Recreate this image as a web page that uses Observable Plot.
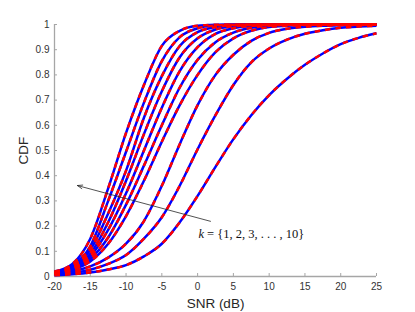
<!DOCTYPE html>
<html><head><meta charset="utf-8">
<script src="https://cdn.jsdelivr.net/npm/d3@7"></script>
<script src="https://cdn.jsdelivr.net/npm/@observablehq/plot@0.6"></script>
<style>body{margin:0;background:#fff}</style>
</head><body><div id="chart"></div>
<script>
// SNR grid (dB)
const snr = [-20,-17.5,-15,-12.5,-10,-7.5,-5,-2.5,0,2.5,5,7.5,10,12.5,15,17.5,20,22.5,25];
// CDF values, one array per k
const cdfK1  = [0.005,0.009,0.016,0.028,0.045,0.08,0.13,0.215,0.32,0.435,0.545,0.64,0.72,0.785,0.84,0.885,0.922,0.947,0.965];
const cdfK2  = [0.008,0.014,0.027,0.05,0.085,0.15,0.235,0.36,0.505,0.64,0.76,0.85,0.905,0.94,0.963,0.977,0.987,0.992,0.995];
const cdfK3  = [0.01,0.02,0.04,0.075,0.13,0.22,0.36,0.525,0.68,0.8,0.88,0.935,0.967,0.983,0.991,0.995,0.997,0.998,0.999];
const cdfK4  = [0.012,0.027,0.06,0.13,0.24,0.38,0.535,0.68,0.8,0.89,0.945,0.975,0.99,0.995,0.998,0.999,1,1,1];
const cdfK5  = [0.013,0.03,0.07,0.155,0.285,0.44,0.60,0.75,0.86,0.93,0.968,0.987,0.995,0.998,0.999,1,1,1,1];
const cdfK6  = [0.015,0.032,0.08,0.185,0.33,0.5,0.67,0.815,0.91,0.963,0.985,0.995,0.998,0.999,1,1,1,1,1];
const cdfK7  = [0.016,0.035,0.09,0.215,0.38,0.565,0.735,0.87,0.945,0.98,0.993,0.998,0.999,1,1,1,1,1,1];
const cdfK8  = [0.017,0.04,0.105,0.25,0.42,0.63,0.795,0.915,0.97,0.99,0.997,0.999,1,1,1,1,1,1,1];
const cdfK9  = [0.018,0.045,0.12,0.3,0.495,0.69,0.855,0.95,0.985,0.996,0.999,1,1,1,1,1,1,1,1];
const cdfK10 = [0.02,0.05,0.15,0.35,0.57,0.76,0.915,0.975,0.995,0.999,1,1,1,1,1,1,1,1,1];
const kValues = [1,2,3,4,5,6,7,8,9,10];

const xTicks = [-20,-15,-10,-5,0,5,10,15,20,25];
const yTicks = [0,0.1,0.2,0.3,0.4,0.5,0.6,0.7,0.8,0.9,1];
const xLabel = "SNR (dB)";
const yLabel = "CDF";

// annotation (data coordinates)
const arrowSpec = [{x1: 1.8, y1: 0.219, x2: -16.8, y2: 0.361}];
const noteSpec = [{x: 0.12, y: 0.169, k: "k", rest: " = {1, 2, 3, . . . , 10}"}];

const series = [cdfK1,cdfK2,cdfK3,cdfK4,cdfK5,cdfK6,cdfK7,cdfK8,cdfK9,cdfK10];
const rows = series.flatMap((vals, i) => vals.map((v, j) => ({k: kValues[i], snr: snr[j], cdf: v})));

const axisGray = "#a6a6a6";
const chart = Plot.plot({
  width: 415, height: 312,
  marginLeft: 54, marginRight: 39, marginTop: 24, marginBottom: 36,
  style: {fontFamily: "'Liberation Sans', Arial, sans-serif", fontSize: "10px", color: "#333", background: "#fff"},
  x: {domain: [-20, 25]},
  y: {domain: [0, 1]},
  marks: [
    Plot.ruleX([-20], {stroke: axisGray, strokeWidth: 1.3}),
    Plot.ruleY([0], {stroke: axisGray, strokeWidth: 1.3}),
    Plot.axisX(xTicks, {tickSize: 3, dy: -3, fill: "none", stroke: axisGray, label: null}),
    Plot.axisX(xTicks, {tickSize: 0, tickPadding: 6, tickFormat: d => String(d), label: null, fill: "#333"}),
    Plot.axisY(yTicks, {tickSize: 3, dx: 3, fill: "none", stroke: axisGray, label: null}),
    Plot.axisY(yTicks, {tickSize: 0, tickPadding: 5, tickFormat: d => String(d), label: null, fill: "#333"}),
    Plot.line(rows, {x: "snr", y: "cdf", z: "k", stroke: "#0000ff", strokeWidth: 2.5, strokeLinecap: "butt", curve: "monotone-x"}),
    Plot.line(rows, {x: "snr", y: "cdf", z: "k", stroke: "#ff0000", strokeWidth: 2.5, strokeLinecap: "butt", strokeDasharray: "5.5,5", curve: "monotone-x"}),
    Plot.arrow(arrowSpec, {x1: "x1", y1: "y1", x2: "x2", y2: "y2", stroke: "#262626", strokeWidth: 0.8, headLength: 10, headAngle: 40}),
    Plot.text(noteSpec, {x: "x", y: "y", text: "k", textAnchor: "start", fontStyle: "italic", fontFamily: "'Liberation Serif', serif", fontSize: 12.5, fill: "#111"}),
    Plot.text(noteSpec, {x: "x", y: "y", text: "rest", dx: 5.5, textAnchor: "start", fontFamily: "'Liberation Serif', serif", fontSize: 12.5, fill: "#111"}),
    Plot.text([yLabel], {frameAnchor: "left", dx: -31, rotate: -90, textAnchor: "middle", lineAnchor: "middle", fontSize: 13.5, fill: "#262626"}),
    Plot.text([xLabel], {frameAnchor: "bottom", dy: 27, textAnchor: "middle", lineAnchor: "middle", fontSize: 13.5, fill: "#262626"})
  ]
});
document.getElementById("chart").appendChild(chart);
</script>
</body></html>
